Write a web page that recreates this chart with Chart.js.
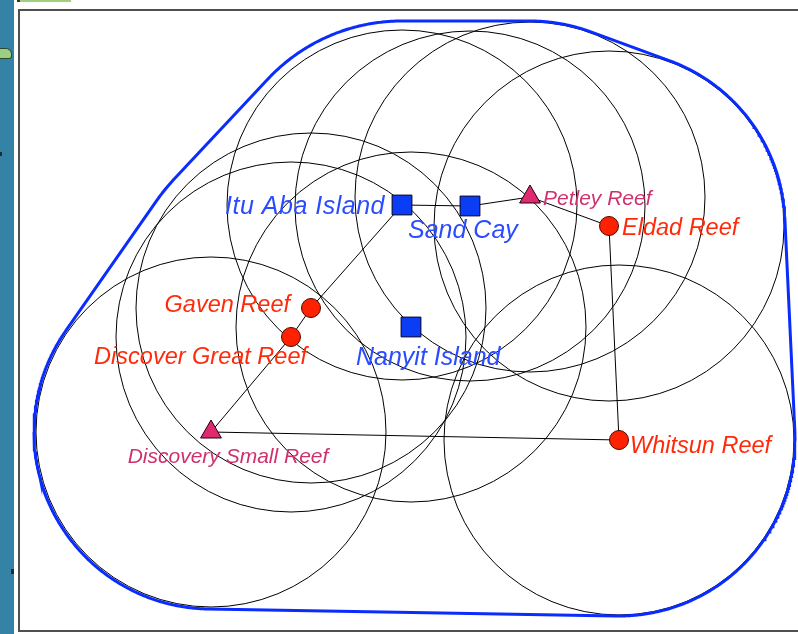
<!DOCTYPE html>
<html>
<head>
<meta charset="utf-8">
<script src="https://cdn.jsdelivr.net/npm/chart.js@4/dist/chart.umd.min.js"></script>
<style>
html,body{margin:0;padding:0;background:#fff;width:798px;height:634px;overflow:hidden;position:relative}
#sea{position:absolute;left:0;top:0;width:14px;height:634px;background:#3482a6}
#land{position:absolute;left:0;top:48px;width:11px;height:9px;background:#9bcf83;border:1px solid #2c4a2c;border-left:none;border-radius:0 6px 3px 0}
#speck1{position:absolute;left:11px;top:569px;width:3px;height:5px;background:#1c2c30}
#speck2{position:absolute;left:0;top:152px;width:2px;height:4px;background:#1c2c30}
#bar{position:absolute;left:17px;top:0;width:51px;height:2px;background:#9fcf7f;border-left:3px solid #2a3a2a}
#panel{position:absolute;left:18px;top:9px;width:790px;height:619px;border-left:2px solid #505050;border-top:2px solid #505050;border-bottom:2px solid #505050}
#wrap{position:absolute;left:20px;top:11px;width:778px;height:619px}
</style>
</head>
<body>
<div id="sea"></div><div id="land"></div><div id="speck1"></div><div id="speck2"></div>
<div id="bar"></div>
<div id="panel"></div>
<div id="wrap"><canvas id="c" width="778" height="619"></canvas></div>
<script>
// ---- data (map units, x east, y north) ----
const siteNames = ['Itu Aba Island','Sand Cay','Petley Reef','Eldad Reef','Gaven Reef','Discover Great Reef','Nanyit Island','Discovery Small Reef','Whitsun Reef'];
const siteKinds = ['island','island','smallReef','reef','reef','reef','island','smallReef','reef'];
const siteX = [382, 450, 510, 589, 291, 271, 391, 191, 599];
const siteY = [425, 424, 433, 404, 322, 293, 303, 198, 190];
const coverageRadius = 175;
// outer boundary buffer per site (blue envelope)
const boundaryRadius = [184, 176, 176, 176, 188, 176, 176, 177, 176];
const routeOrder = ['Itu Aba Island','Sand Cay','Petley Reef','Eldad Reef','Whitsun Reef','Discovery Small Reef','Discover Great Reef','Gaven Reef','Itu Aba Island'];
const xRange = [0, 778];
const yRange = [0, 619];

// ---- styles ----
const kindStyle = {
  island:    {pointStyle:'rect',     radius:14,  fill:'#0b3df5', stroke:'#000022', label:'#2a4bff', font:25},
  reef:      {pointStyle:'circle',   radius:9.5, fill:'#ff2200', stroke:'#4a0a00', label:'#ff2a0a', font:23.5},
  smallReef: {pointStyle:'triangle', radius:12,  fill:'#e02a70', stroke:'#200010', label:'#d0306e', font:21}
};
const labelPlacement = {
  'Itu Aba Island':      {dx:-17, dy:9,  align:'right', spacing:0.5},
  'Sand Cay':            {dx:-62, dy:32, align:'left'},
  'Petley Reef':         {dx:13,  dy:8,  align:'left'},
  'Eldad Reef':          {dx:13,  dy:9,  align:'left'},
  'Gaven Reef':          {dx:-21, dy:4,  align:'right'},
  'Discover Great Reef': {dx:16,  dy:27, align:'right'},
  'Nanyit Island':       {dx:-55, dy:38, align:'left'},
  'Discovery Small Reef':{dx:17,  dy:31, align:'center'},
  'Whitsun Reef':        {dx:11,  dy:13, align:'left'}
};

const sites = siteNames.map((n,i)=>({x:siteX[i], y:siteY[i], name:n, kind:siteKinds[i]}));

function hullOfCircles(xs, ys, rs){
  const pts=[];
  for(let i=0;i<xs.length;i++){
    for(let a=0;a<720;a++){
      const t=a*Math.PI/360;
      pts.push({x:xs[i]+rs[i]*Math.cos(t), y:ys[i]+rs[i]*Math.sin(t)});
    }
  }
  pts.sort((p,q)=>p.x-q.x||p.y-q.y);
  const cross=(o,a,b)=>(a.x-o.x)*(b.y-o.y)-(a.y-o.y)*(b.x-o.x);
  const lower=[];
  for(const p of pts){while(lower.length>=2&&cross(lower[lower.length-2],lower[lower.length-1],p)<=0)lower.pop();lower.push(p);}
  const upper=[];
  for(let i=pts.length-1;i>=0;i--){const p=pts[i];while(upper.length>=2&&cross(upper[upper.length-2],upper[upper.length-1],p)<=0)upper.pop();upper.push(p);}
  upper.pop();lower.pop();
  const h=lower.concat(upper); h.push(h[0]);
  return h;
}

const routeData = routeOrder.map(n=>{const i=siteNames.indexOf(n);return {x:siteX[i],y:siteY[i]};});
const hullData = hullOfCircles(siteX, siteY, boundaryRadius);

function markerDataset(kind, label){
  const st = kindStyle[kind];
  return {
    label, data: sites.filter(s=>s.kind===kind),
    pointStyle: st.pointStyle, pointRadius: st.radius,
    backgroundColor: st.fill, borderColor: st.stroke, borderWidth: 1,
    showLine:false, order: 0
  };
}

const labelPlugin = {
  id:'siteLabels',
  afterDatasetsDraw(chart){
    const ctx=chart.ctx, xs=chart.scales.x, ys=chart.scales.y;
    ctx.save();
    ctx.textBaseline='alphabetic';
    sites.forEach(s=>{
      const st=kindStyle[s.kind], lp=labelPlacement[s.name];
      const px=xs.getPixelForValue(s.x), py=ys.getPixelForValue(s.y);
      ctx.font='italic '+st.font+'px "Liberation Sans", Arial, sans-serif';
      if ('letterSpacing' in ctx) ctx.letterSpacing=(lp.spacing||0)+'px';
      ctx.fillStyle=st.label;
      ctx.textAlign=lp.align;
      ctx.fillText(s.name, px+lp.dx, py+lp.dy);
    });
    ctx.restore();
  }
};

new Chart(document.getElementById('c'), {
  type:'scatter',
  data:{datasets:[
    {label:'coverage', data:sites,
     pointStyle:'circle',
     pointRadius: c=>{const s=c.chart.scales.x; return Math.abs(s.getPixelForValue(coverageRadius)-s.getPixelForValue(0));},
     backgroundColor:'rgba(0,0,0,0)', borderColor:'#000', borderWidth:1, showLine:false, order:5},
    {label:'route', data:routeData, showLine:true, borderColor:'#000', borderWidth:1, pointRadius:0, tension:0, fill:false, order:4},
    {label:'boundary', data:hullData, showLine:true, borderColor:'#0a2cff', borderWidth:3, pointRadius:0, tension:0, fill:false, order:3},
    markerDataset('island','Islands'),
    markerDataset('reef','Reefs'),
    markerDataset('smallReef','Small reefs')
  ]},
  options:{
    responsive:false, animation:false, events:[], devicePixelRatio:1,
    layout:{padding:0, autoPadding:false},
    plugins:{legend:{display:false}, tooltip:{enabled:false}},
    scales:{
      x:{type:'linear', min:xRange[0], max:xRange[1], display:false},
      y:{type:'linear', min:yRange[0], max:yRange[1], display:false}
    }
  },
  plugins:[labelPlugin]
});
</script>
</body>
</html>
